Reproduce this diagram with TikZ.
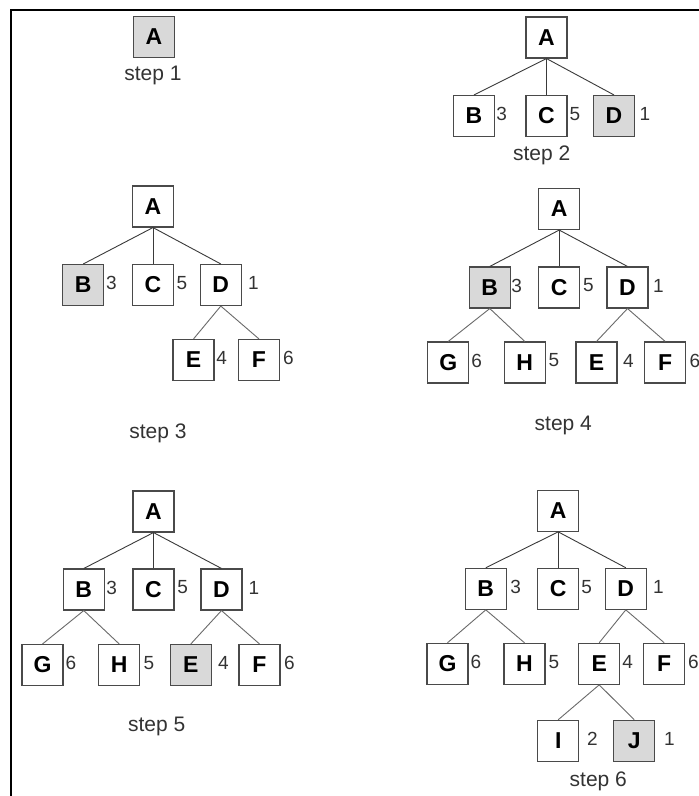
\documentclass[tikz,border=0pt]{standalone}
\usepackage{fontspec}
\setmainfont{Liberation Sans}
\definecolor{hlgray}{HTML}{D9D9D9}
\definecolor{boxline}{HTML}{4A4A4A}
\definecolor{edgedark}{HTML}{3A3A3A}
\definecolor{edgelight}{HTML}{6A6A6A}
\definecolor{numcol}{HTML}{333333}
\tikzset{
  box/.style={draw=boxline, line width=1.1pt, fill=white, minimum size=41pt, inner sep=0pt,
    font=\fontsize{23}{23}\selectfont\bfseries},
  hl/.style={box, fill=hlgray},
  num/.style={font=\fontsize{19}{19}\selectfont, text=numcol, inner sep=0pt},
  steplabel/.style={font=\fontsize{21}{21}\selectfont, text=numcol, inner sep=0pt},
  edgetop/.style={draw=edgedark, line width=0.9pt},
  edgelow/.style={draw=edgelight, line width=0.9pt},
  frame/.style={draw=black, line width=1.4pt}
}
\begin{document}
\begin{tikzpicture}[x=1pt,y=-1pt]
\useasboundingbox (0,0) rectangle (699,796);
\fill[white] (0,0) rectangle (699,796);
\coordinate (fr1) at (11,796);
\coordinate (fr2) at (11,10);
\coordinate (fr3) at (699,10);
\draw[frame] (fr1) -- (fr2) -- (fr3);

% step 1
\node[hl] (a1) at (154,37) {A};
\node[steplabel] (s1) at (153,75) {step 1};

% step 2
\node[box] (a2) at (546.5,37.5) {A};
\node[box] (b2) at (474,116) {B};
\node[box] (c2) at (546.5,116) {C};
\node[hl]  (d2) at (614,116) {D};
\node[num] (nb2) at (501.7,114) {3};
\node[num] (nc2) at (575,114) {5};
\node[num] (nd2) at (645,114) {1};
\node[steplabel] (s2) at (541.7,155) {step 2};
\draw[edgetop] (a2.south) -- (b2.north);
\draw[edgetop] (a2.south) -- (c2.north);
\draw[edgetop] (a2.south) -- (d2.north);

% step 3
\node[box] (a3) at (153,206.5) {A};
\node[hl]  (b3) at (83.3,285) {B};
\node[box] (c3) at (153,285) {C};
\node[box] (d3) at (220.8,285) {D};
\node[box] (e3) at (193.5,360) {E};
\node[box] (f3) at (259,360) {F};
\node[num] (nb3) at (111.3,283) {3};
\node[num] (nc3) at (182,283) {5};
\node[num] (nd3) at (253.3,283) {1};
\node[num] (ne3) at (221.7,358) {4};
\node[num] (nf3) at (288.3,358) {6};
\node[steplabel] (s3) at (158,433) {step 3};
\draw[edgetop] (a3.south) -- (b3.north);
\draw[edgetop] (a3.south) -- (c3.north);
\draw[edgetop] (a3.south) -- (d3.north);
\draw[edgelow] (d3.south) -- (e3.north);
\draw[edgelow] (d3.south) -- (f3.north);

% step 4
\node[box] (a4) at (559.2,209) {A};
\node[hl]  (b4) at (489.8,287.5) {B};
\node[box] (c4) at (559.2,287.5) {C};
\node[box] (d4) at (627.5,287.5) {D};
\node[box] (g4) at (448.2,362.5) {G};
\node[box] (h4) at (524.8,362.5) {H};
\node[box] (e4) at (596.5,362.5) {E};
\node[box] (f4) at (665.2,362.5) {F};
\node[num] (nb4) at (516.7,285.5) {3};
\node[num] (nc4) at (588.3,285.5) {5};
\node[num] (nd4) at (658.3,285.5) {1};
\node[num] (ng4) at (476.7,360.5) {6};
\node[num] (nh4) at (554,360.5) {5};
\node[num] (ne4) at (628.3,360.5) {4};
\node[num] (nf4) at (695,360.5) {6};
\node[steplabel] (s4) at (563.3,425) {step 4};
\draw[edgetop] (a4.south) -- (b4.north);
\draw[edgetop] (a4.south) -- (c4.north);
\draw[edgetop] (a4.south) -- (d4.north);
\draw[edgelow] (b4.south) -- (g4.north);
\draw[edgelow] (b4.south) -- (h4.north);
\draw[edgelow] (d4.south) -- (e4.north);
\draw[edgelow] (d4.south) -- (f4.north);

% step 5
\node[box] (a5) at (153.5,511.5) {A};
\node[box] (b5) at (83.8,589.5) {B};
\node[box] (c5) at (153.5,589.5) {C};
\node[box] (d5) at (221.5,589.5) {D};
\node[box] (g5) at (42.5,665) {G};
\node[box] (h5) at (119.2,665) {H};
\node[hl]  (e5) at (190.8,665) {E};
\node[box] (f5) at (259.5,665) {F};
\node[num] (nb5) at (111.7,587.5) {3};
\node[num] (nc5) at (182.7,587.5) {5};
\node[num] (nd5) at (254,587.5) {1};
\node[num] (ng5) at (71,663) {6};
\node[num] (nh5) at (149,663) {5};
\node[num] (ne5) at (223.3,663) {4};
\node[num] (nf5) at (289.3,663) {6};
\node[steplabel] (s5) at (156.7,726) {step 5};
\draw[edgetop] (a5.south) -- (b5.north);
\draw[edgetop] (a5.south) -- (c5.north);
\draw[edgetop] (a5.south) -- (d5.north);
\draw[edgelow] (b5.south) -- (g5.north);
\draw[edgelow] (b5.south) -- (h5.north);
\draw[edgelow] (d5.south) -- (e5.north);
\draw[edgelow] (d5.south) -- (f5.north);

% step 6
\node[box] (a6) at (558.2,510.8) {A};
\node[box] (b6) at (485.8,588.8) {B};
\node[box] (c6) at (558.2,588.8) {C};
\node[box] (d6) at (625.8,588.8) {D};
\node[box] (g6) at (447.5,663.8) {G};
\node[box] (h6) at (524.5,663.8) {H};
\node[box] (e6) at (599.2,663.8) {E};
\node[box] (f6) at (664.2,663.8) {F};
\node[box] (i6) at (558.2,740.8) {I};
\node[hl]  (j6) at (634.2,740.8) {J};
\node[num] (nb6) at (515.7,586.8) {3};
\node[num] (nc6) at (586.7,586.8) {5};
\node[num] (nd6) at (658.3,586.8) {1};
\node[num] (ng6) at (476,661.8) {6};
\node[num] (nh6) at (554,661.8) {5};
\node[num] (ne6) at (627.7,661.8) {4};
\node[num] (nf6) at (693.3,661.8) {6};
\node[num] (ni6) at (592.3,738.8) {2};
\node[num] (nj6) at (669.3,738.8) {1};
\node[steplabel] (s6) at (598.3,781.7) {step 6};
\draw[edgetop] (a6.south) -- (b6.north);
\draw[edgetop] (a6.south) -- (c6.north);
\draw[edgetop] (a6.south) -- (d6.north);
\draw[edgelow] (b6.south) -- (g6.north);
\draw[edgelow] (b6.south) -- (h6.north);
\draw[edgelow] (d6.south) -- (e6.north);
\draw[edgelow] (d6.south) -- (f6.north);
\draw[edgelow] (e6.south) -- (i6.north);
\draw[edgelow] (e6.south) -- (j6.north);
\end{tikzpicture}
\end{document}
